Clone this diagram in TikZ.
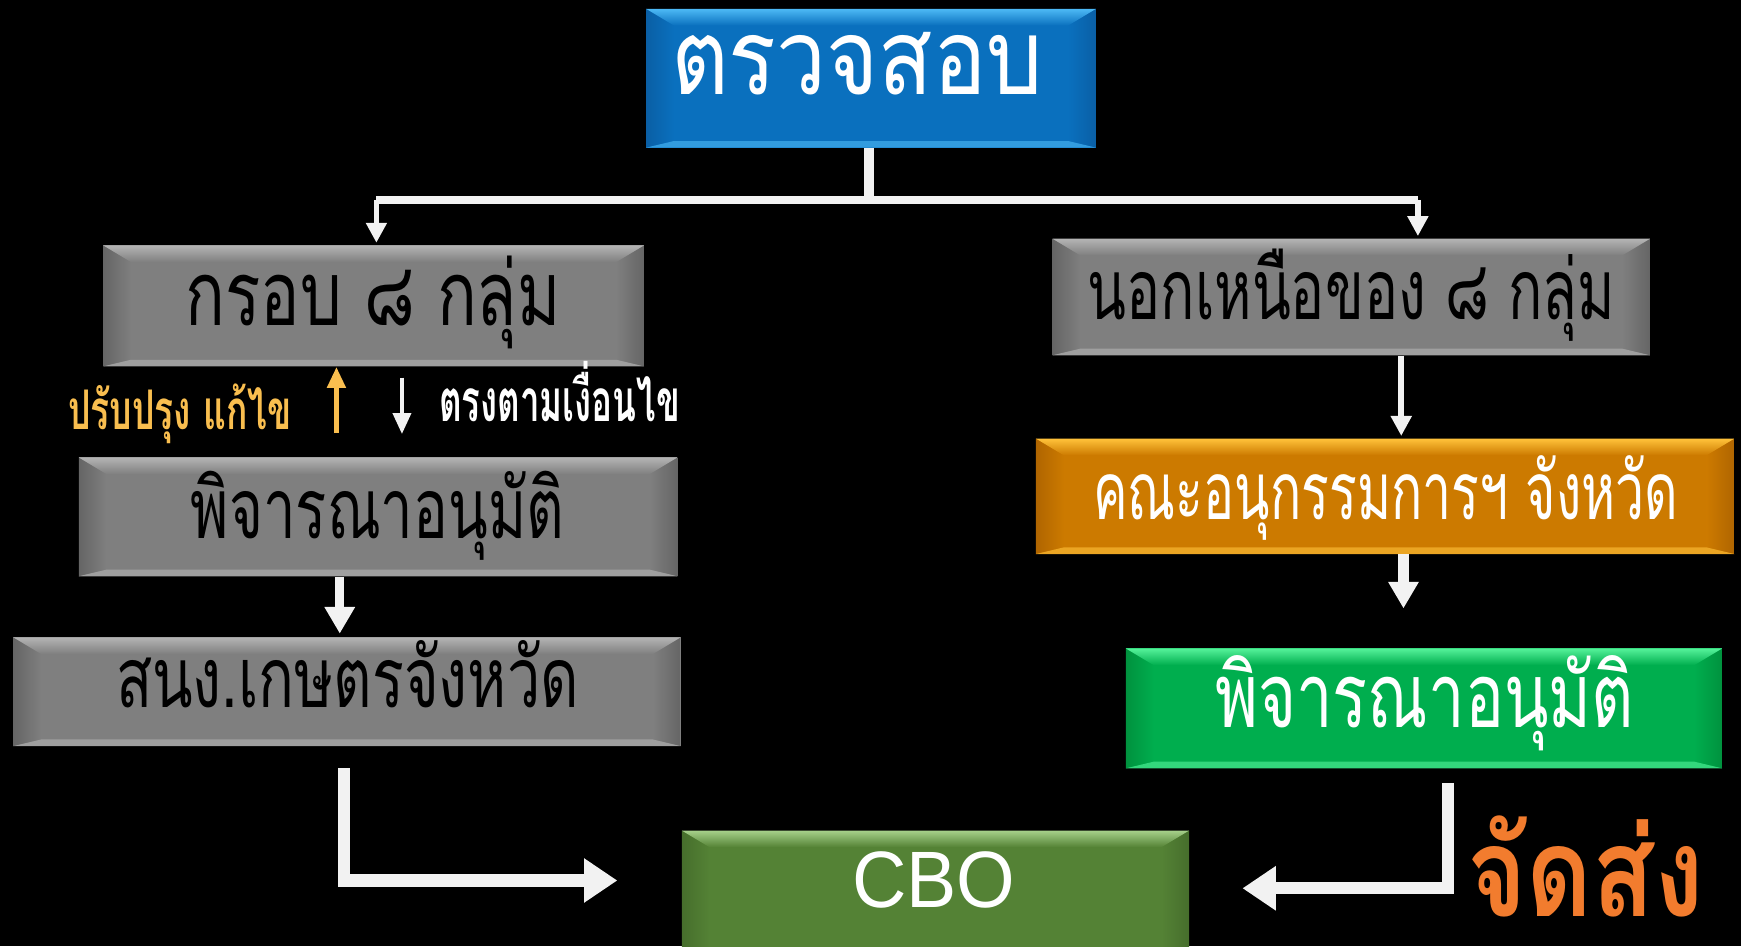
\documentclass[tikz,border=0pt]{standalone}
\usepackage{fontspec}
\usepackage{graphicx}
\usetikzlibrary{calc,arrows.meta}
\newfontfamily\thai[Script=Thai]{Loma}
\setsansfont{Liberation Sans}
\newlength\pxu \setlength\pxu{0.02cm}
\newlength\bw \setlength\bw{25\pxu}
\newlength\bt \setlength\bt{15\pxu}
\newlength\bb \setlength\bb{6\pxu}
\definecolor{blueB}{HTML}{0A70BE}\definecolor{blueL}{HTML}{4CB9F5}\definecolor{blueD}{HTML}{0A5FA5}
\definecolor{grayB}{HTML}{7F7F7F}\definecolor{grayL}{HTML}{B4B4B4}\definecolor{grayD}{HTML}{656565}
\definecolor{oraB}{HTML}{CC7A00}\definecolor{oraL}{HTML}{FFC23A}\definecolor{oraD}{HTML}{B06500}
\definecolor{grnB}{HTML}{00AE4E}\definecolor{grnL}{HTML}{55F29A}\definecolor{grnD}{HTML}{00923E}
\definecolor{olvB}{HTML}{548235}\definecolor{olvL}{HTML}{A6D08A}\definecolor{olvD}{HTML}{466E2C}
\definecolor{arrw}{HTML}{F2F2F2}
\definecolor{labY}{HTML}{F9BE4F}
\definecolor{sendO}{HTML}{F27C2E}
\newcommand\tht[3]{\resizebox{#1\pxu}{\height}{\fontsize{#2}{#2}\selectfont\thai #3}}
\newcommand\bx[6]{\node[#6, minimum width={(#4-#2)*0.02cm}, minimum height={(#5-#3)*0.02cm}] (#1) at ({(#2+#4)/2},{(#3+#5)/2}) {};}
\tikzset{
  bevelbox/.style n args={3}{draw=none, inner sep=0pt, fill=#1,
    path picture={
      \path (path picture bounding box.north west) coordinate (pNW)
            (path picture bounding box.north east) coordinate (pNE)
            (path picture bounding box.south west) coordinate (pSW)
            (path picture bounding box.south east) coordinate (pSE);
      \shade[left color=#3, right color=#1] (pNW) -- ($(pNW)+(\bw,-\bt)$) -- ($(pSW)+(\bw,\bb)$) -- (pSW) -- cycle;
      \shade[left color=#1, right color=#3] (pNE) -- ($(pNE)+(-\bw,-\bt)$) -- ($(pSE)+(-\bw,\bb)$) -- (pSE) -- cycle;
      \shade[top color=#2, bottom color=#1] (pNW) -- (pNE) -- ($(pNE)+(-\bw,-\bt)$) -- ($(pNW)+(\bw,-\bt)$) -- cycle;
      \fill[#2!60!#1] (pSW) -- ($(pSW)+(\bw,\bb)$) -- ($(pSE)+(-\bw,\bb)$) -- (pSE) -- cycle;
    }},
  bluebox/.style={bevelbox={blueB}{blueL}{blueD}},
  graybox/.style={bevelbox={grayB}{grayL}{grayD}},
  orabox/.style={bevelbox={oraB}{oraL}{oraD}},
  grnbox/.style={bevelbox={grnB}{grnL}{grnD}},
  olvbox/.style={bevelbox={olvB}{olvL}{olvD}},
  txt/.style={anchor=base, inner sep=0pt},
  conn/.style={draw=arrw, line width=#1\pxu, line join=miter},
  tipA/.style={-{Triangle[width=0.36cm,length=0.36cm]}},
  tipB/.style={-{Triangle[width=0.52cm,length=0.48cm]}},
  tipC/.style={-{Triangle[width=0.76cm,length=0.6cm]}},
  tipS/.style={-{Triangle[width=0.32cm,length=0.38cm]}},
}
\begin{document}
\begin{tikzpicture}[x=0.02cm,y=-0.02cm]
\fill[black] (0,0) rectangle (1568,852);
\useasboundingbox (0,0) rectangle (1568,852);
% boxes
\bx{top}{582}{8}{987}{133}{bluebox}
\bx{g1}{93}{221}{580}{330}{graybox}
\bx{g2}{948}{215}{1486}{320}{graybox}
\bx{g3}{71}{412}{610}{519}{graybox}
\bx{g4}{12}{574}{613}{672}{graybox}
\bx{o1}{933}{395}{1562}{499}{orabox}
\bx{gr}{1014}{584}{1551}{692}{grnbox}
\bx{cbo}{614}{748}{1071}{880}{olvbox}
% texts
\node[txt,text=white] (ttop) at (772,85) {\tht{335}{54}{ตรวจสอบ}};
\node[txt,text=black] (tg1) at (336,293) {\tht{338}{46}{กรอบ ๘ กลุ่ม}};
\node[txt,text=black] (tg2) at (1217,288) {\tht{475}{43}{นอกเหนือของ ๘ กลุ่ม}};
\node[txt,text=black] (tg3) at (340,485) {\tht{336}{43}{พิจารณาอนุมัติ}};
\node[txt,text=black] (tg4) at (313,637) {\tht{417}{43}{สนง.เกษตรจังหวัด}};
\node[txt,text=white] (to1) at (1248,468) {\tht{527}{41}{คณะอนุกรรมการฯ จังหวัด}};
\node[txt,text=white] (tgr) at (1283,655) {\tht{377}{46}{พิจารณาอนุมัติ}};
\node[txt,text=white] (tcbo) at (841,817) {\raisebox{0pt}[\height][0pt]{\resizebox{147\pxu}{\height}{\fontsize{41}{41}\selectfont\sffamily CBO}}};
\node[txt,text=sendO] (tsend) at (1428,825) {\raisebox{0pt}[\height][0pt]{\tht{213}{64}{\bfseries จัดส่ง}}};
\node[txt,text=labY] (tfix) at (162,387) {\tht{201}{28}{\bfseries ปรับปรุง แก้ไข}};
\node[txt,text=white] (tok) at (504,380) {\tht{217}{30}{\bfseries ตรงตามเงื่อนไข}};
% connectors top
\coordinate (hub) at (783,180);
\coordinate (bl) at (339,180);
\coordinate (br) at (1277,180);
\draw[conn=9] (top.south -| hub) -- (hub);
\draw[conn=7] (bl) -- (br);
\draw[conn=5,tipA] (bl) -- ($(bl |- g1.north)+(0,-2)$);
\draw[conn=5,tipA] (br) -- ($(br |- g2.north)+(0,-2)$);
% right column
\coordinate (r1) at (1262,320);
\draw[conn=5,tipA] (r1 |- g2.south) -- ($(r1 |- o1.north)+(0,-2)$);
\coordinate (r2) at (1264,499);
\coordinate (r2e) at (1264,548);
\draw[conn=10,tipB] (r2 |- o1.south) -- (r2e);
% left column
\coordinate (l1) at (306,519);
\draw[conn=8,tipB] (l1 |- g3.south) -- ($(l1 |- g4.north)+(0,-3)$);
\coordinate (upb) at (303,390);
\draw[draw=labY,line width=5\pxu,tipS] (upb) -- (upb |- g1.south);
\coordinate (dnb) at (362,340);
\coordinate (dne) at (362,391);
\draw[conn=4,tipS] (dnb) -- (dne);
% elbows to CBO
\coordinate (e1s) at (310,692);
\coordinate (e1e) at (556,793);
\draw[conn=11,tipC] (e1s) |- (e1e);
\coordinate (e2s) at (1304,705);
\coordinate (e2e) at (1119,800);
\draw[conn=11,tipC] (e2s) |- (e2e);
\end{tikzpicture}
\end{document}
